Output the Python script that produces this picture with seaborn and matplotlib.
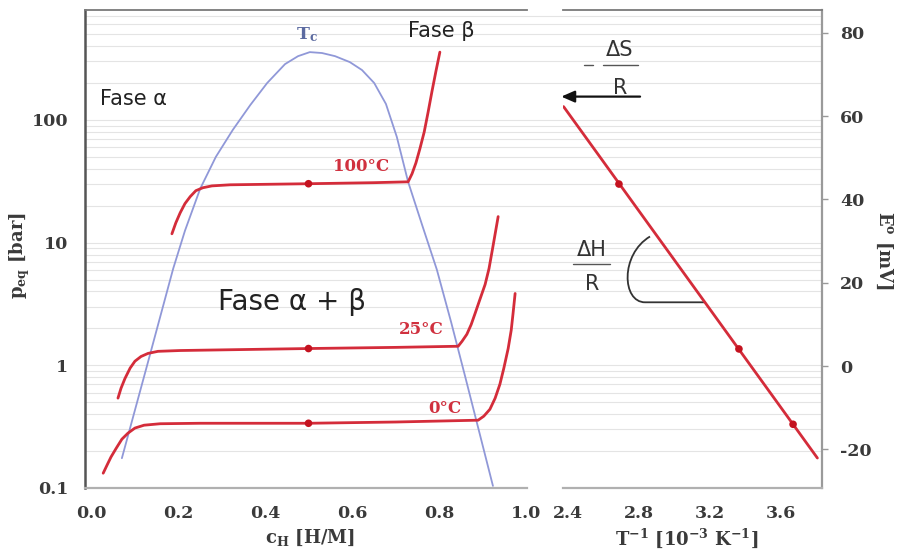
import matplotlib
matplotlib.use("Agg")
import matplotlib.pyplot as plt
from matplotlib.path import Path
from matplotlib.patches import PathPatch
import seaborn as sns

# ---------------- data ----------------
# two-phase boundary (critical dome), hydrogen content c_H [H/M] vs p_eq [bar]
dome_c = [0.071, 0.129, 0.189, 0.216, 0.251, 0.287, 0.326, 0.366, 0.405, 0.446,
          0.476, 0.503, 0.531, 0.561, 0.595, 0.623, 0.651, 0.678, 0.703, 0.729,
          0.761, 0.795, 0.828, 0.860, 0.892, 0.924]
dome_p = [0.175, 1.0, 6.15, 12.5, 27.5, 50, 83, 132, 200, 285,
          331, 357, 351, 331, 296, 255, 200, 135, 72.8, 31.3,
          14.0, 6.03, 2.24, 0.814, 0.291, 0.104]

# pressure-composition isotherms
iso100_c = [0.186, 0.195, 0.205, 0.216, 0.228, 0.241, 0.257, 0.278, 0.320,
            0.50, 0.65, 0.729, 0.738, 0.747, 0.756, 0.766, 0.775, 0.784,
            0.793, 0.802]
iso100_p = [11.8, 14.5, 17.5, 20.8, 23.7, 26.5, 28.0, 29.0, 29.6,
            30.2, 30.8, 31.3, 36.4, 44.7, 58.1, 79.8, 116, 172,
            250, 357]

iso25_c = [0.062, 0.069, 0.078, 0.090, 0.101, 0.115, 0.131, 0.154, 0.205,
           0.50, 0.70, 0.844, 0.853, 0.864, 0.874, 0.883, 0.894, 0.906,
           0.915, 0.924, 0.936]
iso25_p = [0.54, 0.65, 0.78, 0.95, 1.08, 1.18, 1.25, 1.30, 1.32,
           1.37, 1.40, 1.43, 1.57, 1.79, 2.15, 2.65, 3.44, 4.56,
           6.15, 9.29, 16.3]

iso0_c = [0.028, 0.037, 0.046, 0.058, 0.071, 0.085, 0.101, 0.122, 0.159,
          0.251, 0.50, 0.70, 0.890, 0.903, 0.917, 0.929, 0.940, 0.949,
          0.959, 0.966, 0.970, 0.975]
iso0_p = [0.132, 0.154, 0.179, 0.211, 0.250, 0.280, 0.308, 0.325, 0.334,
          0.337, 0.337, 0.345, 0.357, 0.385, 0.438, 0.539, 0.701, 0.946,
          1.37, 1.93, 2.60, 3.85]

# plateau midpoints at c_H = 0.5
mid_c = [0.5, 0.5, 0.5]
mid_p = [30.2, 1.37, 0.337]
temp_labels = ["100°C", "25°C", "0°C"]
temp_label_c = [0.621, 0.759, 0.814]
temp_label_p = [41.5, 1.96, 0.447]

# van 't Hoff representation: T^-1 [10^-3 K^-1] vs E° [mV]
inv_T = [2.687, 3.363, 3.668]
E0 = [43.7, 4.1, -14.0]
fit_invT = [2.375, 3.805]
fit_E0 = [62.3, -22.1]

c_ticks = [0.0, 0.2, 0.4, 0.6, 0.8, 1.0]
c_ticklabels = ["0.0", "0.2", "0.4", "0.6", "0.8", "1.0"]
p_ticks = [0.1, 1, 10, 100]
p_ticklabels = ["0.1", "1", "10", "100"]
invT_ticks = [2.4, 2.8, 3.2, 3.6]
invT_ticklabels = ["2.4", "2.8", "3.2", "3.6"]
invT_minor = [2.6, 3.0, 3.4, 3.8]
E_ticks = [-20, 0, 20, 40, 60, 80]
E_ticklabels = ["-20", "0", "20", "40", "60", "80"]

# ---------------- style ----------------
sns.set_style("white")
plt.rcParams["font.family"] = ["DejaVu Serif"]
plt.rcParams["font.weight"] = "bold"
plt.rcParams["mathtext.fontset"] = "dejavuserif"

RED = "#d42c3a"
DOT = "#c4121f"
BLUE = "#9098d8"
TICK_TXT = "#3a3a3a"
SANS = ["DejaVu Sans"]

W, H = 900, 553
fig = plt.figure(figsize=(W / 100, H / 100), dpi=100)


def rect(x0, y0, x1, y1):
    return [x0 / W, 1 - y1 / H, (x1 - x0) / W, (y1 - y0) / H]


P_LIM = (0.1, 787)
C_LIM = (-0.0138, 1.0023)
T_LIM = (2.3718, 3.831)
E_LIM = (-29.3, 85.5)

# faint horizontal rules behind both panels
ax_bg = fig.add_axes(rect(85, 10, 822, 488), zorder=0)
ax_bg.set_yscale("log")
ax_bg.set_ylim(*P_LIM)
ax_bg.set_xlim(0, 1)
for k in range(-1, 3):
    for m in range(1, 10):
        v = m * 10 ** k
        if P_LIM[0] < v < P_LIM[1]:
            ax_bg.axhline(v, color="#e4e4e4", lw=0.8)
ax_bg.axis("off")

ax_l = fig.add_axes(rect(85, 10, 527, 488), zorder=1)
ax_r = fig.add_axes(rect(563, 10, 822, 488), zorder=1)
for a in (ax_l, ax_r):
    a.patch.set_alpha(0)

# ---------------- left: p-c isotherms ----------------
ax_l.set_yscale("log")
sns.lineplot(x=dome_c, y=dome_p, ax=ax_l, sort=False, estimator=None,
             color=BLUE, lw=1.3, zorder=2)
for cc, pp in ((iso100_c, iso100_p), (iso25_c, iso25_p), (iso0_c, iso0_p)):
    sns.lineplot(x=cc, y=pp, ax=ax_l, sort=False, estimator=None,
                 color=RED, lw=2.0, zorder=3)
for ln in ax_l.get_lines():
    ln.set_solid_joinstyle("round")
    ln.set_solid_capstyle("round")
sns.scatterplot(x=mid_c, y=mid_p, ax=ax_l, color=DOT, s=30, edgecolor="none",
                zorder=4)

ax_l.set_xlim(*C_LIM)
ax_l.set_ylim(*P_LIM)
ax_l.set_xticks(c_ticks, c_ticklabels)
ax_l.set_yticks(p_ticks, p_ticklabels)
ax_l.yaxis.set_minor_locator(matplotlib.ticker.LogLocator(base=10, subs=range(2, 10)))
ax_l.yaxis.set_minor_formatter(matplotlib.ticker.NullFormatter())
ax_l.tick_params(axis="y", which="major", direction="out", length=5, width=1.2,
                 color="#555555", labelsize=12.5, labelcolor=TICK_TXT, pad=7)
ax_l.tick_params(axis="y", which="minor", direction="out", length=3, width=1.0,
                 color="#666666")
ax_l.tick_params(axis="x", which="major", direction="out", length=3, width=1.0,
                 color="#aaaaaa", labelsize=12.5, labelcolor=TICK_TXT, pad=9)
ax_l.set_xlabel("")
ax_l.set_ylabel("")
ax_l.spines["right"].set_visible(False)
ax_l.spines["left"].set_color("#555555")
ax_l.spines["left"].set_linewidth(1.8)
ax_l.spines["top"].set_color("#7a7a7a")
ax_l.spines["top"].set_linewidth(1.3)
ax_l.spines["bottom"].set_color("#b0b0b0")
ax_l.spines["bottom"].set_linewidth(1.6)

for lab, cc, pp in zip(temp_labels, temp_label_c, temp_label_p):
    ax_l.text(cc, pp, lab, color="#d0303e", fontsize=12, fontweight="bold",
              ha="center", va="center")

ax_l.text(0.497, 500, r"T$_\mathregular{c}$", color="#5b6aa0", fontsize=12.5,
          fontweight="bold", ha="center", va="center")
ax_l.text(0.021, 148, "Fase α", family=SANS, fontweight="normal", fontsize=15,
          color="#222222", ha="left", va="center")
ax_l.text(0.729, 529, "Fase β", family=SANS, fontweight="normal", fontsize=15,
          color="#222222", ha="left", va="center")
ax_l.text(0.292, 3.31, "Fase α + β", family=SANS, fontweight="normal",
          fontsize=20, color="#222222", ha="left", va="center")

# ---------------- right: E° vs 1/T ----------------
sns.lineplot(x=fit_invT, y=fit_E0, ax=ax_r, sort=False, estimator=None,
             color=RED, lw=2.0, zorder=3)
sns.scatterplot(x=inv_T, y=E0, ax=ax_r, color=DOT, s=30, edgecolor="none",
                zorder=4)
ax_r.set_xlim(*T_LIM)
ax_r.set_ylim(*E_LIM)
ax_r.set_xticks(invT_ticks, invT_ticklabels)
ax_r.set_xticks(invT_minor, minor=True)
ax_r.yaxis.tick_right()
ax_r.set_yticks(E_ticks, E_ticklabels)
ax_r.tick_params(axis="x", which="both", direction="out", length=3, width=1.0,
                 color="#aaaaaa", labelsize=12.5, labelcolor=TICK_TXT, pad=9)
ax_r.tick_params(axis="y", which="major", direction="out", length=4, width=1.0,
                 color="#999999", labelsize=12.5, labelcolor=TICK_TXT, pad=9,
                 left=False, right=True)
ax_r.set_xlabel("")
ax_r.set_ylabel("")
ax_r.spines["left"].set_visible(False)
ax_r.spines["right"].set_color("#9a9a9a")
ax_r.spines["right"].set_linewidth(1.6)
ax_r.spines["top"].set_color("#7a7a7a")
ax_r.spines["top"].set_linewidth(1.3)
ax_r.spines["bottom"].set_color("#b0b0b0")
ax_r.spines["bottom"].set_linewidth(1.6)

# -ΔS/R intercept marker
ax_r.plot([2.49, 2.54], [72.3, 72.3], color="#555555", lw=1.0)
ax_r.text(2.693, 76.0, "ΔS", family=SANS, fontweight="normal", fontsize=15,
          color="#333333", ha="center", va="center")
ax_r.plot([2.597, 2.794], [72.3, 72.3], color="#555555", lw=1.0)
ax_r.text(2.693, 66.8, "R", family=SANS, fontweight="normal", fontsize=15,
          color="#333333", ha="center", va="center")
ax_r.annotate("", xy=(2.362, 64.7), xytext=(2.806, 64.7), annotation_clip=False,
              arrowprops=dict(arrowstyle="-|>,head_length=0.8,head_width=0.35",
                              color="#111111", lw=1.6, shrinkA=0, shrinkB=0))

# ΔH/R slope marker
ax_r.text(2.535, 27.8, "ΔH", family=SANS, fontweight="normal", fontsize=15,
          color="#333333", ha="center", va="center")
ax_r.plot([2.428, 2.637], [24.4, 24.4], color="#555555", lw=1.0)
ax_r.text(2.535, 19.8, "R", family=SANS, fontweight="normal", fontsize=15,
          color="#333333", ha="center", va="center")
arc = Path([(2.862, 31.1), (2.693, 26.8), (2.704, 15.3), (2.834, 15.3),
            (3.172, 15.3)],
           [Path.MOVETO, Path.CURVE4, Path.CURVE4, Path.CURVE4, Path.LINETO])
ax_r.add_patch(PathPatch(arc, facecolor="none", edgecolor="#333333", lw=1.3,
                         zorder=2))

# ---------------- axis titles ----------------
fig.text(20 / W, 1 - 256 / H, r"p$_\mathregular{eq}$ [bar]", rotation=90,
         fontsize=13, color=TICK_TXT, ha="center", va="center")
fig.text(310 / W, 1 - 538 / H, r"c$_\mathregular{H}$ [H/M]", fontsize=13,
         color=TICK_TXT, ha="center", va="center")
fig.text(687 / W, 1 - 538 / H,
         r"T$^\mathregular{-1}$ [10$^\mathregular{-3}$ K$^\mathregular{-1}$]",
         fontsize=13, color=TICK_TXT, ha="center", va="center")
fig.text(884 / W, 1 - 250 / H, r"E$^\mathregular{o}$ [mV]", rotation=270,
         fontsize=13, color=TICK_TXT, ha="center", va="center")

fig.savefig("out.png", dpi=100)
